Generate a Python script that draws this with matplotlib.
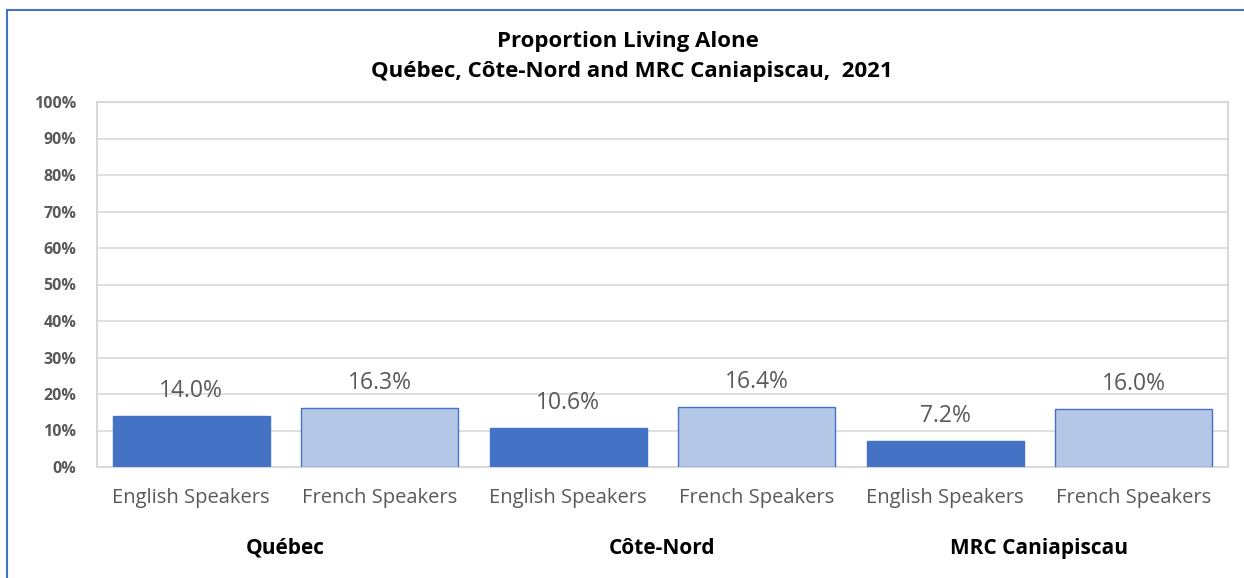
import matplotlib
matplotlib.use("Agg")
import matplotlib.pyplot as plt
from matplotlib.lines import Line2D
import numpy as np

plt.rcParams['font.family'] = ['Open Sans', 'DejaVu Sans']

groups = ["Québec", "Côte-Nord", "MRC Caniapiscau"]
categories = ["English Speakers", "French Speakers"]
english = [14.0, 10.6, 7.2]
french = [16.3, 16.4, 16.0]
yticks = [0, 10, 20, 30, 40, 50, 60, 70, 80, 90, 100]

fig = plt.figure(figsize=(12.44, 5.78), dpi=100)
ax = fig.add_axes([97/1244, 1-467/578, (1228-97)/1244, (467-102)/578])

values = []
colors = []
edges = []
labels = []
for e, f in zip(english, french):
    values += [e, f]
    colors += ["#4472C4", "#B4C7E7"]
    edges += ["#4472C4", "#4472C4"]
    labels += categories
x = np.arange(len(values))
bars = ax.bar(x, values, width=0.835, color=colors, edgecolor=edges, linewidth=1.0, zorder=3)
for xi, v in zip(x, values):
    ax.annotate(f"{v:.1f}%", (xi, v), xytext=(0, 18), textcoords="offset points",
                ha="center", va="center", fontsize=16.5, color="#595959")

ax.set_xlim(-0.5, len(values) - 0.5)
ax.set_ylim(0, 100)
ax.set_yticks(yticks)
ax.set_yticklabels([f"{t}%" for t in yticks], fontsize=11.5, color="#595959", fontweight="bold")
ax.set_xticks(x)
ax.set_xticklabels(labels, fontsize=14.5, color="#595959")
ax.tick_params(axis="both", length=0)
ax.tick_params(axis="x", pad=15)
ax.tick_params(axis="y", pad=15)
ax.grid(axis="y", color="#D9D9D9", linewidth=1.2, zorder=0)
for s in ax.spines.values():
    s.set_color("#D9D9D9")
    s.set_linewidth(1.5)

for i, g in enumerate(groups):
    xc = 2 * i + 0.5
    ax.text(xc, -0.222, g, transform=ax.get_xaxis_transform(), ha="center", va="center",
            fontsize=15, fontweight="bold", color="black")

fig.text(628/1244, 1 - 42/578, "Proportion Living Alone", ha="center", va="center",
         fontsize=16, fontweight="bold", color="black")
fig.text(632/1244, 1 - 72/578, "Québec, Côte-Nord and MRC Caniapiscau,  2021", ha="center", va="center",
         fontsize=16, fontweight="bold", color="black")

# chart border (top and left)
fig.add_artist(Line2D([7/1244, 1.0], [1 - 10/578, 1 - 10/578], transform=fig.transFigure,
                      color="#4472C4", linewidth=1.5))
fig.add_artist(Line2D([7/1244, 7/1244], [0, 1 - 10/578], transform=fig.transFigure,
                      color="#4472C4", linewidth=1.5))

fig.savefig("out.png", dpi=100)
